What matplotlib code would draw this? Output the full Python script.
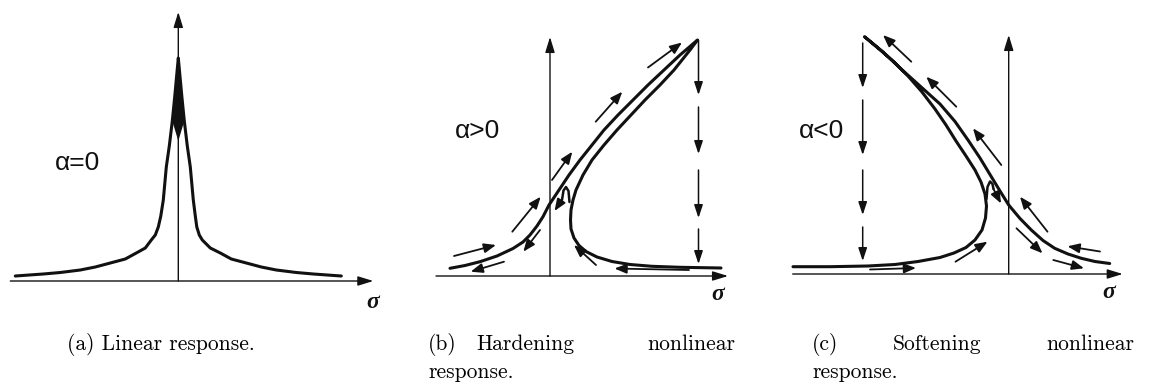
import matplotlib
matplotlib.use("Agg")
import matplotlib.pyplot as plt
import numpy as np

INK = "#111111"

# ---------------- (a) linear response, alpha = 0 ----------------
sigma_a = [-16.3, -13.5, -11.8, -9.8, -8.3, -6.8, -5.3, -4.2, -3.3, -2.7, -2.3, -2.0,
           -1.75, -1.5, -1.2, -0.9, -0.6, -0.35, -0.12, 0.0, 0.12, 0.35, 0.6, 0.9, 1.2,
           1.5, 1.7, 1.85, 2.1, 2.4, 3.2, 4.2, 5.3, 6.8, 8.3, 9.8, 11.8, 13.5, 16.3]
amp_a = [0.5, 0.7, 0.85, 1.1, 1.4, 1.8, 2.2, 2.8, 3.3, 4.1, 4.6, 5.4,
         6.5, 8.1, 11.4, 13.5, 16.0, 18.5, 21.0, 22.3, 21.0, 18.5, 16.0, 13.5, 11.4,
         8.1, 6.5, 5.4, 4.6, 4.1, 3.3, 2.8, 2.2, 1.8, 1.4, 1.1, 0.85, 0.7, 0.5]
axis_a = (-16.8, 19.5, 26.9)          # x-axis start, x-axis end, y-axis top

# ---------------- (b) hardening, alpha > 0 ----------------
# upper stable branch -> peak -> unstable branch -> lower stable branch
sigma_b = [-10.0, -8.5, -7.0, -5.3, -3.7, -2.7, -2.0, -1.3, -0.7, -0.1, 0.9, 1.9,
           3.0, 4.2, 5.4, 6.8, 8.3, 9.8, 11.4, 13.0, 14.75,
           14.0, 13.2, 12.4, 11.0, 9.5, 8.1, 6.7, 5.4, 4.2, 3.3, 2.6, 2.3, 2.1,
           2.05, 2.1, 2.4, 2.9, 3.6, 4.7, 6.2, 8.0, 10.2, 13.0, 17.1]
amp_b = [0.77, 1.05, 1.43, 2.0, 2.75, 3.4, 4.1, 5.0, 5.93, 7.1, 8.6, 10.1,
         11.6, 13.1, 14.6, 16.1, 17.6, 19.1, 20.6, 22.1, 23.6,
         22.6, 21.6, 20.6, 19.1, 17.6, 16.1, 14.6, 13.1, 11.6, 10.1, 8.6, 7.6, 6.6,
         5.6, 4.7, 3.8, 3.05, 2.45, 1.9, 1.45, 1.15, 0.97, 0.87, 0.8]
hook_b_sigma = [1.95, 1.85, 1.6, 1.35, 1.2]
hook_b_amp = [7.4, 8.5, 8.9, 8.55, 7.6]
# flow arrows: tail sigma, tail amp, head sigma, head amp
arrows_b = [(-9.6, 2.0, -5.4, 3.1), (-4.6, 1.43, -7.93, 0.43),
            (-3.77, 4.43, -0.93, 7.93), (-1.0, 4.6, -2.67, 2.43),
            (1.17, 7.6, 0.45, 6.5), (0.2, 9.6, 2.23, 12.43),
            (4.57, 15.43, 7.23, 18.43), (9.8, 20.85, 13.2, 23.35),
            (4.6, 1.1, 2.4, 3.1), (13.9, 0.6, 6.45, 0.75)]
jump_b_sigma = 14.85
jump_b = [(23.6, 18.1), (16.9, 12.2), (10.6, 5.8), (4.7, 1.2)]
axis_b = (-11.4, 17.8, 23.9)

# ---------------- (c) softening, alpha < 0 ----------------
sigma_c = [10.1, 8.63, 7.26, 5.93, 4.6, 3.43, 2.26, 1.13, 0.0, -0.87, -1.74, -2.87,
           -4.07, -5.37, -6.87, -8.87, -10.87, -12.57, -14.42,
           -13.07, -11.57, -10.07, -8.67, -7.37, -6.27, -5.27, -4.27, -3.37, -2.77,
           -2.37, -2.22, -2.32, -2.67, -3.37, -4.27, -5.47, -6.87, -9.07, -11.37,
           -14.07, -17.87, -21.57]
amp_c = [1.05, 1.25, 1.57, 2.0, 2.57, 3.35, 4.4, 5.55, 6.9, 8.3, 9.73, 11.6,
         13.4, 15.25, 17.0, 18.8, 20.6, 22.2, 23.73,
         22.6, 21.3, 19.8, 18.2, 16.5, 14.9, 13.3, 11.8, 10.4, 9.2,
         8.0, 6.8, 5.6, 4.4, 3.4, 2.65, 2.1, 1.65, 1.25, 0.95,
         0.8, 0.73, 0.73]
hook_c_sigma = [-2.22, -2.12, -1.87, -1.62, -1.52]
hook_c_amp = [7.5, 8.7, 9.25, 9.0, 8.5]
arrows_c = [(-9.74, 21.23, -12.57, 23.9), (-5.24, 16.73, -8.24, 19.73),
            (-0.74, 10.9, -3.57, 14.57), (-1.52, 8.5, -0.77, 7.05),
            (3.88, 4.23, 1.13, 7.73), (0.78, 4.57, 3.38, 2.07),
            (9.13, 2.25, 5.88, 2.77), (4.46, 1.4, 7.53, 0.57),
            (-5.32, 1.23, -2.12, 3.23), (-13.87, 0.45, -9.27, 0.6)]
jump_c_sigma = -14.6
jump_c = [(23.1, 18.6), (17.4, 11.9), (10.4, 5.9), (4.7, 1.3)]
axis_c = (-21.6, 11.4, 23.9)

labels = ["α=0", "α>0", "α<0"]

# ---------------- figure ----------------
W, H = 1152, 392
PX = 10.0  # pixels per data unit
fig = plt.figure(figsize=(W / 100, H / 100), dpi=100)
fig.patch.set_facecolor("white")


def panel(x0, ox, oy):
    ax = fig.add_axes([x0 / W, (H - 320) / H, 384 / W, 320 / H])
    ax.set_xlim((x0 - ox) / PX, (x0 + 384 - ox) / PX)
    ax.set_ylim((oy - 320) / PX, oy / PX)
    ax.axis("off")
    return ax


def arrow(ax, tail, head, lw=1.3, ms=14, hl=0.55, hw=0.22):
    ax.annotate("", xy=head, xytext=tail,
                arrowprops=dict(arrowstyle=f"-|>,head_length={hl},head_width={hw}",
                                lw=lw, color=INK, shrinkA=0, shrinkB=0,
                                mutation_scale=ms))


def axes_arrows(ax, span):
    x0, x1, ytop = span
    arrow(ax, (x0, 0), (x1, 0), lw=1.0, ms=18, hl=0.52, hw=0.16)
    arrow(ax, (0, 0), (0, ytop), lw=1.0, ms=18, hl=0.52, hw=0.16)


def curve(ax, s, a, lw=2.2):
    ax.plot(s, a, color=INK, lw=lw, solid_joinstyle="round", solid_capstyle="round")


def flow(ax, arrows):
    for ts, ta, hs, ha in arrows:
        arrow(ax, (ts, ta), (hs, ha), lw=1.3, ms=13)


def jump(ax, s, segs):
    for top, bot in segs:
        arrow(ax, (s, top), (s, bot), lw=1.1, ms=13, hl=0.6, hw=0.2)


lab_kw = dict(fontsize=19, family="Liberation Sans", color=INK, ha="center", va="center")
sig_kw = dict(fontsize=17, family="Liberation Serif", style="italic", weight="bold",
              color=INK, ha="center", va="center")

# (a)
ax = panel(0, 178.3, 281)
axes_arrows(ax, axis_a)
curve(ax, sigma_a, amp_a)
sa, aa = np.array(sigma_a), np.array(amp_a)
spike = aa >= 16
# solid tip of the resonance peak, closed with a V below the narrowest width
tip_s = np.append(sa[spike], 0.0)
tip_a = np.append(aa[spike], aa[spike].min() - 2.0)
ax.fill(tip_s, tip_a, color=INK, lw=0)
ax.text(-10.1, 11.85, labels[0], **lab_kw)
ax.text(19.4, -2.1, "σ", **sig_kw)

# (b)
ax = panel(384, 550, 276)
axes_arrows(ax, axis_b)
curve(ax, sigma_b, amp_b)
ax.plot(hook_b_sigma, hook_b_amp, color=INK, lw=1.8, solid_capstyle="round")
flow(ax, arrows_b)
jump(ax, jump_b_sigma, jump_b)
ax.text(-7.2, 14.5, labels[1], **lab_kw)
ax.text(16.8, -1.8, "σ", **sig_kw)

# (c)
ax = panel(768, 1008.7, 274)
axes_arrows(ax, axis_c)
curve(ax, sigma_c, amp_c)
ax.plot(hook_c_sigma, hook_c_amp, color=INK, lw=1.8, solid_capstyle="round")
flow(ax, arrows_c)
jump(ax, jump_c_sigma, jump_c)
ax.text(-18.7, 14.3, labels[2], **lab_kw)
ax.text(10.0, -1.8, "σ", **sig_kw)

# captions
cap_kw = dict(fontsize=15.5, family="cmr10", color="black", va="baseline")


def ftext(x, y, s, **kw):
    fig.text(x / W, 1 - y / H, s, **kw)


ftext(161, 350, "(a) Linear response.", ha="center", **cap_kw)
ftext(428, 350, "(b)", ha="left", **cap_kw)
ftext(476, 350, "Hardening", ha="left", **cap_kw)
ftext(735, 350, "nonlinear", ha="right", **cap_kw)
ftext(428, 378, "response.", ha="left", **cap_kw)
ftext(812, 350, "(c)", ha="left", **cap_kw)
ftext(893, 350, "Softening", ha="left", **cap_kw)
ftext(1134, 350, "nonlinear", ha="right", **cap_kw)
ftext(812, 378, "response.", ha="left", **cap_kw)

fig.savefig("out.png", dpi=100, facecolor="white")
